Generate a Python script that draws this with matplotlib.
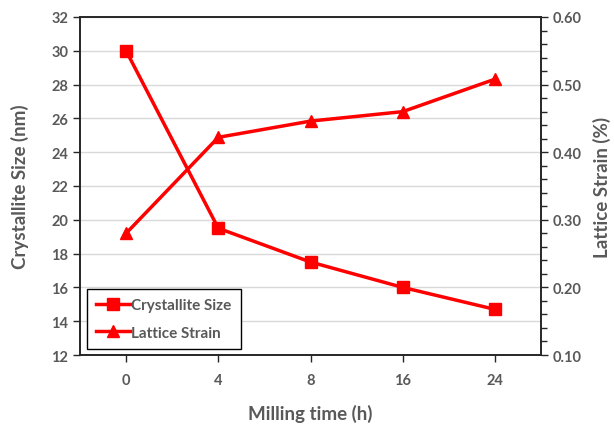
import matplotlib.pyplot as plt
from matplotlib.ticker import MultipleLocator

plt.rcParams['font.family'] = ['Lato', 'DejaVu Sans']

# data
milling_time = ['0', '4', '8', '16', '24']
crystallite_size = [30.0, 19.5, 17.5, 16.0, 14.7]
lattice_strain = [0.28, 0.422, 0.446, 0.46, 0.508]

grey = '#595959'
red = '#ff0000'

fig = plt.figure(figsize=(6.14, 4.27), dpi=100)
ax = fig.add_axes([80 / 614, 1 - 356 / 427, 461 / 614, 338 / 427])
ax2 = ax.twinx()

x = range(len(milling_time))
l1, = ax.plot(x, crystallite_size, color=red, lw=2.5, marker='s', ms=8,
              label='Crystallite Size')
l2, = ax2.plot(x, lattice_strain, color=red, lw=2.5, marker='^', ms=9,
               label='Lattice Strain')

ax.set_xlim(-0.5, 4.5)
ax.set_ylim(12, 32)
ax.yaxis.set_major_locator(MultipleLocator(2))
ax.set_xticks(list(x))
ax.set_xticklabels(milling_time)
ax2.set_ylim(0.10, 0.60)
ax2.yaxis.set_major_locator(MultipleLocator(0.10))
ax2.yaxis.set_minor_locator(MultipleLocator(0.02))
ax2.yaxis.set_major_formatter(lambda v, p: f'{v:.2f}')

ax.grid(axis='y', color='#d9d9d9', lw=1)
ax.set_axisbelow(True)

for a in (ax, ax2):
    for s in a.spines.values():
        s.set_color('#262626')
        s.set_linewidth(1.2)
    a.tick_params(colors='#262626', labelcolor=grey, labelsize=10.5, width=1, length=5)
    for lab in a.get_xticklabels() + a.get_yticklabels():
        lab.set_fontweight('bold')
ax2.tick_params(which='minor', colors='#262626', length=4, width=1)
ax.tick_params(axis='x', pad=8)

ax.set_xlabel('Milling time (h)', fontsize=13.5, fontweight='bold', color=grey, labelpad=12)
ax.set_ylabel('Crystallite Size (nm)', fontsize=13.5, fontweight='bold', color=grey, labelpad=16)
ax2.set_ylabel('Lattice Strain (%)', fontsize=13.5, fontweight='bold', color=grey,
               rotation=90, labelpad=8)

leg = ax.legend(handles=[l1, l2], loc='lower left', bbox_to_anchor=(0.015, 0.018),
                borderaxespad=0, fancybox=False, edgecolor='black', framealpha=1,
                fontsize=11, handlelength=2.2, handletextpad=0.1, borderpad=0.6,
                labelspacing=0.9)
leg.get_frame().set_linewidth(1)
for t in leg.get_texts():
    t.set_color(grey)
    t.set_fontweight('bold')

fig.savefig('out.png', dpi=100)
